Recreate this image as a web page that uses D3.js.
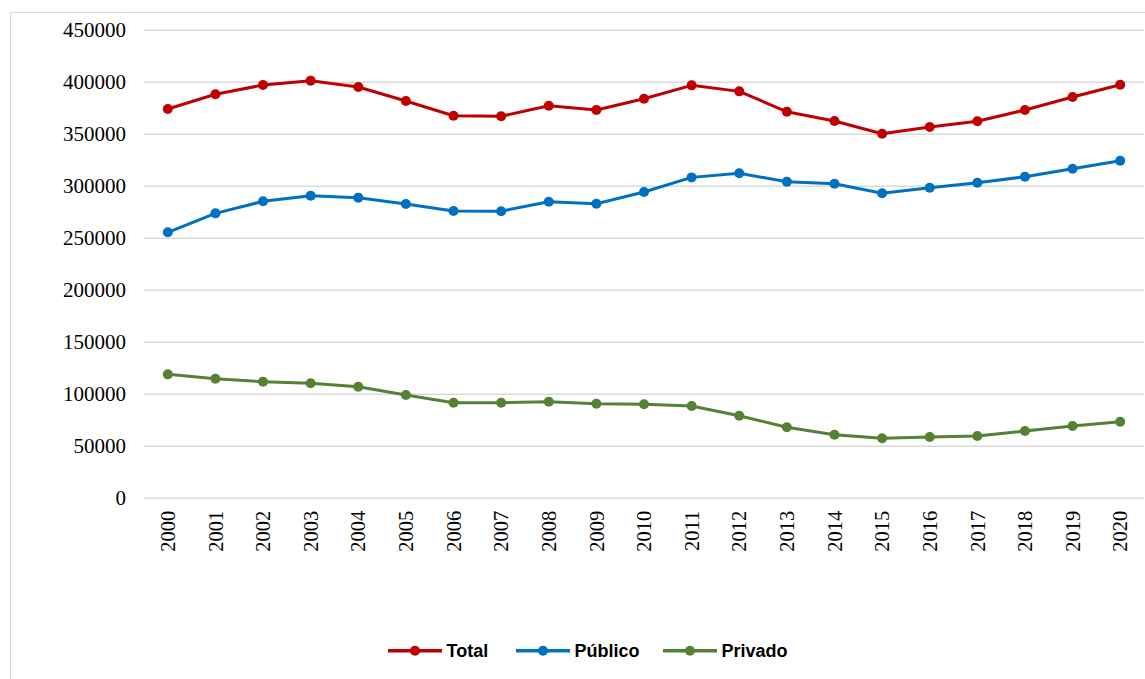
<!DOCTYPE html>
<html>
<head>
<meta charset="utf-8">
<script src="https://cdn.jsdelivr.net/npm/d3@7"></script>
<style>
  body { margin: 0; background: #fff; }
  svg { display: block; }
</style>
</head>
<body>
<svg id="chart" width="1145" height="679"></svg>
<script>
const years = ['2000','2001','2002','2003','2004','2005','2006','2007','2008','2009','2010',
  '2011','2012','2013','2014','2015','2016','2017','2018','2019','2020']

const total = [373700, 387900, 396800, 401000, 394900, 381400, 367300, 366700, 376900, 372800, 383600,
  396500, 390700, 371100, 362200, 350000, 356400, 361900, 372800, 385300, 397100]
const publico = [255200, 273400, 285000, 290400, 288500, 282400, 275700, 275500, 284600, 282700, 293900,
  308000, 311900, 303800, 301900, 292700, 298100, 302900, 308600, 316300, 324000]
const privado = [118600, 114400, 111500, 110000, 106700, 98700, 91300, 91300, 92300, 90400, 89800,
  88200, 78800, 67700, 60600, 57100, 58400, 59300, 64100, 68900, 73100]

const yTicks = [0, 50000, 100000, 150000, 200000, 250000, 300000, 350000, 400000, 450000]

const series = [
  { name: 'Total', values: total, color: '#C00000' },
  { name: 'Público', values: publico, color: '#0070C0' },
  { name: 'Privado', values: privado, color: '#548235' }
]

const svg = d3.select('#chart')
const plot = { left: 144, right: 1144, top: 29.7, bottom: 497.7 }

// chart area frame
svg.append('rect')
  .attr('x', 10.5).attr('y', 12.5)
  .attr('width', 1150).attr('height', 700)
  .attr('fill', 'none')
  .attr('stroke', '#D9D9D9')
  .attr('stroke-width', 1)

const x = d3.scaleBand().domain(years).range([plot.left, plot.right])
const y = d3.scaleLinear().domain([0, 450000]).range([plot.bottom, plot.top])

// gridlines + y labels
const yAxis = svg.append('g')
  .attr('transform', `translate(${plot.left},0)`)
  .call(d3.axisLeft(y).tickValues(yTicks).tickSize(-(plot.right - plot.left)).tickPadding(18).tickFormat(d3.format('d')))
yAxis.select('.domain').remove()
yAxis.selectAll('line').attr('stroke', '#D9D9D9').attr('stroke-width', 1.5)
yAxis.selectAll('text')
  .attr('fill', '#000')
  .style('font-family', '"Liberation Serif", "Times New Roman", serif')
  .style('font-size', '21px')

// x labels
const xAxis = svg.append('g')
  .attr('transform', `translate(0,${plot.bottom})`)
  .call(d3.axisBottom(x).tickSize(0))
xAxis.select('.domain').remove()
xAxis.selectAll('text')
  .attr('fill', '#000')
  .attr('transform', 'rotate(-90)')
  .attr('x', -13)
  .attr('y', 0)
  .attr('dy', '0.35em')
  .attr('text-anchor', 'end')
  .style('font-family', '"Liberation Serif", "Times New Roman", serif')
  .style('font-size', '20.5px')

const cx = d => x(d) + x.bandwidth() / 2
const line = d3.line().x((d, i) => cx(years[i])).y(d => y(d))

series.forEach(s => {
  const g = svg.append('g')
  g.append('path')
    .datum(s.values)
    .attr('d', line)
    .attr('fill', 'none')
    .attr('stroke', s.color)
    .attr('stroke-width', 3)
    .attr('stroke-linejoin', 'round')
  g.selectAll('circle')
    .data(s.values)
    .enter().append('circle')
    .attr('cx', (d, i) => cx(years[i]))
    .attr('cy', d => y(d))
    .attr('r', 5)
    .attr('fill', s.color)
})

// legend
const legendX = [388, 516, 663]
const legendY = 650.7
const legend = svg.append('g')
series.forEach((s, i) => {
  const lg = legend.append('g').attr('transform', `translate(${legendX[i]},${legendY})`)
  lg.append('line')
    .attr('x1', 0).attr('x2', 54)
    .attr('y1', 0).attr('y2', 0)
    .attr('stroke', s.color)
    .attr('stroke-width', 3.5)
  lg.append('circle')
    .attr('cx', 27).attr('cy', 0).attr('r', 5)
    .attr('fill', s.color)
  lg.append('text')
    .attr('x', 58.5).attr('y', 0)
    .attr('dy', '0.35em')
    .text(s.name)
    .style('font-family', '"Liberation Sans", Arial, sans-serif')
    .style('font-weight', 'bold')
    .style('font-size', '18px')
    .attr('fill', '#000')
})
</script>
</body>
</html>
